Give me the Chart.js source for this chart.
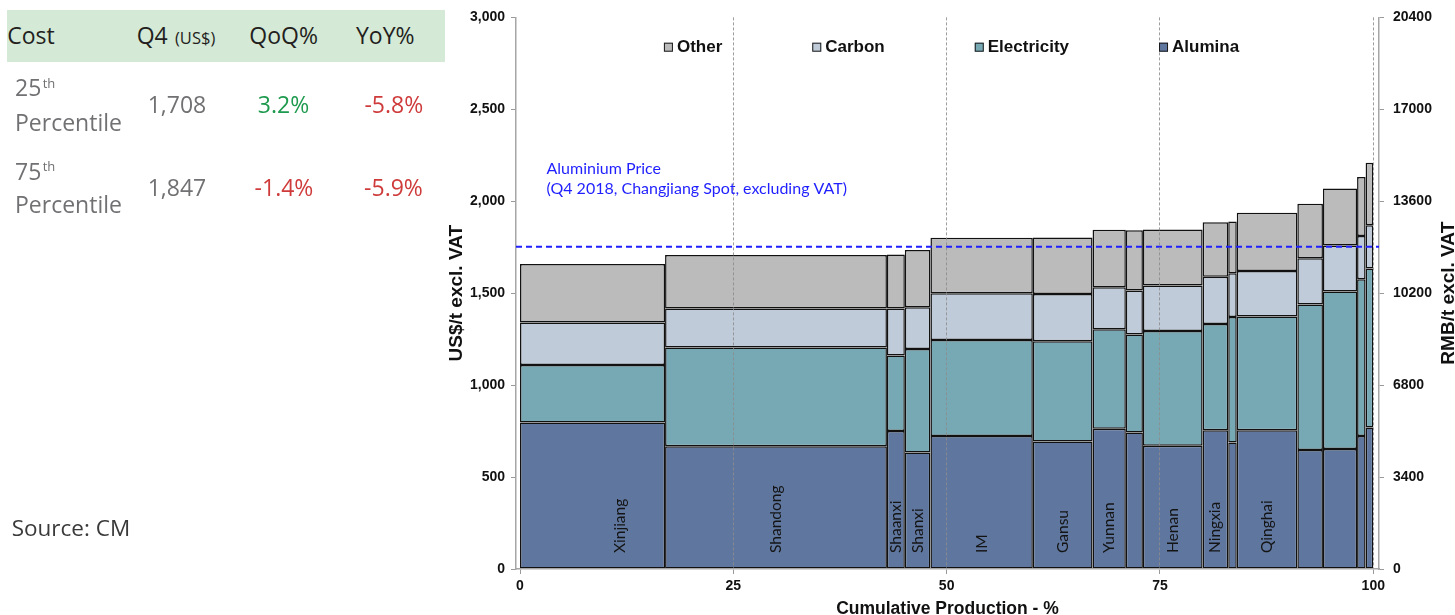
<!DOCTYPE html>
<html>
<head>
<meta charset="utf-8">
<title>China aluminium smelter cost curve</title>
<script src="https://cdn.jsdelivr.net/npm/chart.js@4.4.1/dist/chart.umd.min.js"></script>
<style>
  html, body { margin: 0; padding: 0; background: #fff; }
  body { width: 1455px; height: 615px; position: relative; overflow: hidden; font-family: 'Open Sans', sans-serif; }
  #chart { position: absolute; left: 0; top: 0; }
  .panel { position: absolute; left: 0; top: 0; }
  .panel .hdr-bg { position: absolute; left: 7px; top: 9.5px; width: 438px; height: 52px; background: #d5e9d7; }
  .panel span { position: absolute; white-space: nowrap; line-height: 1; }
  .hdr { font-size: 23px; color: #231f20; }
  .unit { font-size: 16.5px; color: #231f20; }
  .lbl { font-size: 23px; color: #717174; }
  .sup { font-size: 13px; color: #717174; }
  .val { font-size: 23px; color: #717174; transform: translateX(-50%); }
  .up { color: #1e9a4e; }
  .down { color: #cf3b3b; }
  .src { font-size: 22.5px; color: #3a3a3a; }
</style>
</head>
<body>
<canvas id="chart" width="1455" height="615"></canvas>

<div class="panel">
  <div class="hdr-bg"></div>
  <span class="hdr" style="left:7.3px;top:23.9px">Cost</span>
  <span class="hdr" style="left:136.7px;top:23.9px">Q4</span>
  <span class="unit" style="left:175px;top:29.6px">(US$)</span>
  <span class="hdr" style="left:249.3px;top:23.9px">QoQ%</span>
  <span class="hdr" style="left:356px;top:23.9px">YoY%</span>

  <span class="lbl" style="left:15px;top:76.3px">25</span>
  <span class="sup" style="left:42.7px;top:76.8px">th</span>
  <span class="lbl" style="left:15px;top:111.3px">Percentile</span>
  <span class="val" style="left:177px;top:92.9px">1,708</span>
  <span class="val up" style="left:283.5px;top:92.9px">3.2%</span>
  <span class="val down" style="left:393.8px;top:92.9px">-5.8%</span>

  <span class="lbl" style="left:15px;top:159.6px">75</span>
  <span class="sup" style="left:42.7px;top:160.2px">th</span>
  <span class="lbl" style="left:15px;top:192.9px">Percentile</span>
  <span class="val" style="left:177px;top:176.3px">1,847</span>
  <span class="val down" style="left:284px;top:176.3px">-1.4%</span>
  <span class="val down" style="left:393.5px;top:176.3px">-5.9%</span>

  <span class="src" style="left:11.7px;top:516.7px">Source: CM</span>
</div>

<script>
// ---- Provincial cost curve data (US$/t, excl. VAT) ----
const regions = ['Xinjiang', 'Shandong', 'Shaanxi', 'Shanxi', 'IM', 'Gansu', 'Yunnan', '',
                 'Henan', 'Ningxia', '', 'Qinghai', '', '', '', ''];
// share of national production, % (bar widths)
const productionShare = [17.0, 26.0, 2.1, 3.0, 12.0, 7.0, 3.9, 2.0, 7.0, 3.0, 1.0, 7.1, 3.0, 4.0, 1.0, 0.9];
const alumina     = [797, 667, 750, 634, 723, 694, 763, 743, 670, 755, 688, 755, 647, 652, 723, 770];
const electricity = [312, 538, 411, 563, 523, 545, 541, 533, 625, 578, 682, 618, 791, 857, 853, 864];
const carbon      = [232, 212, 256, 227, 254, 256, 229, 239, 247, 256, 239, 248, 252, 251, 235, 236];
const other       = [318, 291, 293, 311, 301, 308, 312, 328, 305, 297, 281, 316, 297, 309, 321, 340];
const aluminiumPrice = 1753;          // Q4 2018 Changjiang spot, excl. VAT, US$/t
const usdToRmb = 6.8;
const xTicks = [0, 25, 50, 75, 100];
const usdTicks = [0, 500, 1000, 1500, 2000, 2500, 3000];
const rmbTicks = [0, 3400, 6800, 10200, 13600, 17000, 20400];

// x range of the plot (cumulative production %)
const X_MIN = -0.47, X_MAX = 100.67;

// cumulative production edges of each province's bar
const edges = [0];
productionShare.forEach(s => edges.push(+(edges[edges.length - 1] + s).toFixed(2)));
const segments = values => values.map((v, i) => ({
  x: (edges[i] + edges[i + 1]) / 2, y: v, x0: edges[i], x1: edges[i + 1]
}));

// Bar controller whose bar widths follow each point's [x0, x1] production span
class CostCurveController extends Chart.BarController {
  _calculateBarIndexPixels(index) {
    const scale = this._cachedMeta.iScale;
    const seg = this.getDataset().data[index];
    const a = scale.getPixelForValue(seg.x0);
    const b = scale.getPixelForValue(seg.x1);
    return { base: a, head: b, center: (a + b) / 2, size: b - a };
  }
}
CostCurveController.id = 'costCurve';
Chart.register(CostCurveController);

const AXIS_FONT = "'Liberation Sans', Arial, sans-serif";
const INK = '#111111';

const decor = {
  id: 'costCurveDecor',
  afterDatasetsDraw(chart, args, opts) {
    // province names inside the bars
    const ctx = chart.ctx;
    const meta = chart.getDatasetMeta(0);
    ctx.save();
    ctx.font = "15.5px Lato, 'Noto Sans', sans-serif";
    ctx.fillStyle = '#141414';
    ctx.textAlign = 'left';
    ctx.textBaseline = 'middle';
    meta.data.forEach((bar, i) => {
      const name = regions[i];
      if (!name) return;
      const x = bar.x + (opts.labelNudge[name] || 0);
      ctx.save();
      ctx.translate(x, chart.chartArea.bottom - 16);
      ctx.rotate(-Math.PI / 2);
      ctx.fillText(name, 0, 0);
      ctx.restore();
    });
    ctx.restore();
  },
  afterDraw(chart, args, opts) {
    const ctx = chart.ctx;
    const area = chart.chartArea;
    ctx.save();

    // legend (top layer first)
    const items = chart.data.datasets.filter(d => d.type !== 'line').slice().reverse();
    ctx.font = 'bold 17px ' + AXIS_FONT;
    const box = 9, gapBox = 4, gapItem = 90;
    const widths = items.map(d => box + gapBox + ctx.measureText(d.label).width);
    const total = widths.reduce((a, b) => a + b, 0) + gapItem * (items.length - 1);
    let x = (area.left + area.right) / 2 + 4 - total / 2;
    items.forEach((d, i) => {
      ctx.fillStyle = d.backgroundColor;
      ctx.fillRect(x, 42.7, box, box);
      ctx.strokeStyle = '#1a1a1a';
      ctx.lineWidth = 1;
      ctx.strokeRect(x + 0.5, 43.2, box - 1, box - 1);
      ctx.fillStyle = INK;
      ctx.textAlign = 'left';
      ctx.textBaseline = 'alphabetic';
      ctx.fillText(d.label, x + box + gapBox, 51.7);
      x += widths[i] + gapItem;
    });

    // price caption
    ctx.font = "16px Lato, 'Noto Sans', sans-serif";
    ctx.fillStyle = '#1f1fff';
    ctx.fillText('Aluminium Price', area.left + 30.5, area.top + 157);
    ctx.fillText('(Q4 2018, Changjiang Spot, excluding VAT)', area.left + 30.5, area.top + 176.3);

    // right axis title, reading bottom to top
    ctx.font = 'bold 19px ' + AXIS_FONT;
    ctx.fillStyle = INK;
    ctx.textAlign = 'center';
    ctx.textBaseline = 'middle';
    ctx.translate(1448.5, (area.top + area.bottom) / 2);
    ctx.rotate(-Math.PI / 2);
    ctx.fillText('RMB/t excl. VAT', 0, 0);
    ctx.restore();
  }
};

const barStyle = { stack: 'cost', borderColor: '#111111', borderWidth: 1.5, borderSkipped: false };

new Chart(document.getElementById('chart'), {
  type: 'costCurve',
  data: {
    datasets: [
      { label: 'Alumina', data: segments(alumina), backgroundColor: '#5f769e', ...barStyle },
      { label: 'Electricity', data: segments(electricity), backgroundColor: '#77a9b5', ...barStyle },
      { label: 'Carbon', data: segments(carbon), backgroundColor: '#bfcbd9', ...barStyle },
      { label: 'Other', data: segments(other), backgroundColor: '#bbbbbb', ...barStyle },
      {
        type: 'line', label: 'Aluminium Price', stack: 'price', order: -1,
        data: [{ x: X_MIN, y: aluminiumPrice }, { x: X_MAX, y: aluminiumPrice }],
        borderColor: '#1f1fff', borderWidth: 2, borderDash: [6, 4],
        pointRadius: 0, fill: false
      }
    ]
  },
  options: {
    responsive: false,
    animation: false,
    layout: { padding: { left: 441, top: 17, right: 0, bottom: 0 } },
    plugins: {
      legend: { display: false },
      tooltip: { enabled: false },
      costCurveDecor: { labelNudge: { Xinjiang: 27 } }
    },
    scales: {
      x: {
        type: 'linear', position: 'bottom', offset: false,
        min: X_MIN, max: X_MAX, stacked: true,
        afterBuildTicks: s => { s.ticks = xTicks.map(v => ({ value: v })); },
        afterFit: s => { s.height = 46; },
        ticks: { font: { family: AXIS_FONT, size: 14, weight: 'bold' }, color: INK, padding: 4, maxRotation: 0, autoSkip: false },
        grid: {
          z: 1, offset: false,
          color: c => (c.tick && c.tick.value === 0) ? 'rgba(0,0,0,0)' : 'rgba(140,140,140,0.85)',
          lineWidth: 1, tickLength: 5, tickColor: '#9a9a9a'
        },
        border: { z: 1, color: '#a6a6a6', width: 1.5, dash: [3, 2] },
        title: {
          display: true, text: 'Cumulative Production - %', color: INK,
          font: { family: AXIS_FONT, size: 17.5, weight: 'bold' },
          padding: { top: 0, bottom: -4.6 }
        }
      },
      y: {
        position: 'left', min: 0, max: usdTicks[usdTicks.length - 1], stacked: true,
        afterBuildTicks: s => { s.ticks = usdTicks.map(v => ({ value: v })); },
        afterFit: s => { s.width = 75; },
        ticks: { font: { family: AXIS_FONT, size: 14, weight: 'bold' }, color: INK, padding: 6,
                 callback: v => v.toLocaleString('en-US') },
        grid: { drawOnChartArea: false, tickLength: 5, tickColor: '#9a9a9a' },
        border: { color: '#a6a6a6', width: 1.5 },
        title: {
          display: true, text: 'US$/t excl. VAT', color: INK,
          font: { family: AXIS_FONT, size: 19, weight: 'bold' },
          padding: { top: 4, bottom: 0 }
        }
      },
      y2: {
        position: 'right', min: 0, max: usdTicks[usdTicks.length - 1] * usdToRmb,
        afterBuildTicks: s => { s.ticks = rmbTicks.map(v => ({ value: v })); },
        afterFit: s => { s.width = 76; },
        ticks: { font: { family: AXIS_FONT, size: 14, weight: 'bold' }, color: INK, padding: 9,
                 callback: v => String(v) },
        grid: { drawOnChartArea: false, tickLength: 5, tickColor: '#9a9a9a' },
        border: { color: '#a6a6a6', width: 1.5 }
      }
    }
  },
  plugins: [decor]
});
</script>
</body>
</html>
